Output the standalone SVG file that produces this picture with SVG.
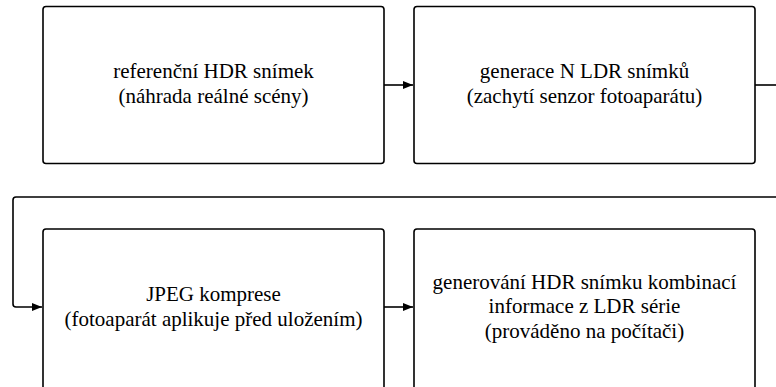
<svg xmlns="http://www.w3.org/2000/svg" width="776" height="387" viewBox="0 0 776 387">
<style>
.box{fill:#fff;stroke:#000;stroke-width:1.6}
.t{font-family:"Liberation Serif","Times New Roman",serif;font-size:21px;fill:#000;text-anchor:middle}
.c{fill:none;stroke:#000;stroke-width:1.6}
</style>
<defs>
<marker id="ah" markerWidth="10" markerHeight="8" refX="10" refY="4" orient="auto" markerUnits="userSpaceOnUse">
<path d="M0,0 L10,4 L0,8 Z" fill="#000"/>
</marker>
</defs>
<rect width="776" height="387" fill="#fff"/>
<g id="connectors">
<path class="c" d="M384,85 H413" marker-end="url(#ah)"/>
<path class="c" d="M755,85 H776"/>
<path class="c" d="M776,197 H16 Q13,197 13,200 V304 Q13,307 16,307 H42" marker-end="url(#ah)"/>
<path class="c" d="M384,307 H413" marker-end="url(#ah)"/>
</g>
<g id="n1">
<rect class="box" x="43" y="6.5" width="341" height="157" rx="3"/>
<text class="t" x="213.5" y="78">referenční HDR snímek</text>
<text class="t" x="213.5" y="103">(náhrada reálné scény)</text>
</g>
<g id="n2">
<rect class="box" x="414" y="6.5" width="341" height="157" rx="3"/>
<text class="t" x="584.5" y="78">generace N LDR snímků</text>
<text class="t" x="584.5" y="103">(zachytí senzor fotoaparátu)</text>
</g>
<g id="n3">
<rect class="box" x="43" y="229" width="341" height="162" rx="3"/>
<text class="t" x="213.5" y="301">JPEG komprese</text>
<text class="t" x="213.5" y="325.5">(fotoaparát aplikuje před uložením)</text>
</g>
<g id="n4">
<rect class="box" x="414" y="229" width="341" height="162" rx="3"/>
<text class="t" x="584.5" y="288.5">generování HDR snímku kombinací</text>
<text class="t" x="584.5" y="313">informace z LDR série</text>
<text class="t" x="584.5" y="337.5">(prováděno na počítači)</text>
</g>
</svg>
